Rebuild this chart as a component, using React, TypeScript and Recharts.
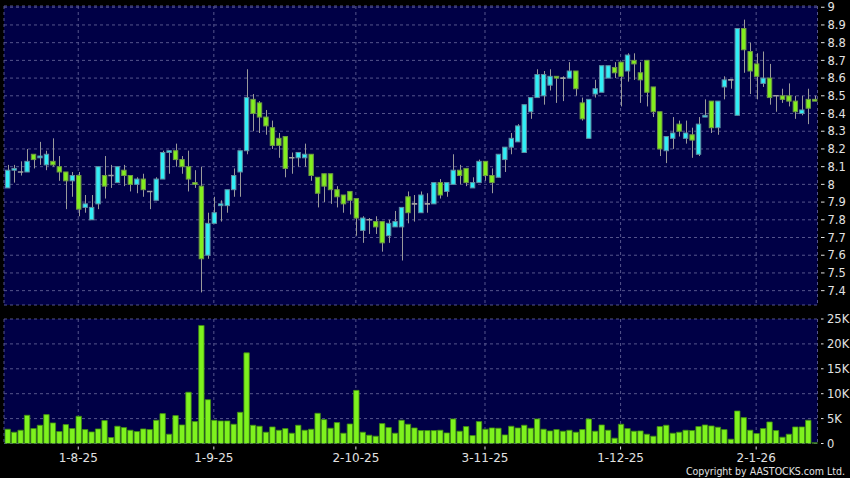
import React from 'react';
import { ComposedChart, Bar, XAxis, YAxis, CartesianGrid } from 'recharts';

// ---- data ----
const openP = [
  7.98, 8.08, 8.07, 8.07, 8.17, 8.15, 8.11, 8.13, 8.10, 8.07,
  8.02, 8.05, 7.87, 7.80, 7.89, 8.05, 8.05, 8.01, 8.08, 8.05,
  8.00, 8.03, 7.96, 7.91, 8.03, 8.18, 8.19, 8.14, 8.10, 8.01,
  7.99, 7.60, 7.78, 7.88, 7.88, 7.97, 8.07, 8.19, 8.48, 8.46,
  8.38, 8.32, 8.26, 8.27, 8.15, 8.15, 8.15, 8.17, 8.04, 8.06,
  8.06, 7.97, 7.94, 7.96, 7.92, 7.74, 7.80, 7.79, 7.79, 7.71,
  7.76, 7.76, 7.93, 7.89, 7.84, 7.89, 7.89, 8.01, 7.96, 8.00,
  8.08, 8.09, 7.98, 8.01, 8.13, 8.05, 8.04, 8.14, 8.21, 8.24,
  8.18, 8.41, 8.49, 8.50, 8.56, 8.61, 8.60, 8.60, 8.64, 8.46,
  8.26, 8.51, 8.52, 8.60, 8.66, 8.69, 8.64, 8.70, 8.63, 8.70,
  8.55, 8.41, 8.19, 8.26, 8.34, 8.26, 8.28, 8.17, 8.38, 8.47,
  8.32, 8.55, 8.59, 8.39, 8.88, 8.75, 8.68, 8.57, 8.60, 8.50,
  8.50, 8.50, 8.47, 8.40, 8.48, 8.48,
];
const highP = [
  8.11, 8.11, 8.13, 8.20, 8.17, 8.24, 8.19, 8.26, 8.16, 8.07,
  8.07, 8.07, 7.94, 7.94, 8.10, 8.16, 8.11, 8.10, 8.11, 8.05,
  8.04, 8.06, 7.96, 8.04, 8.19, 8.19, 8.23, 8.16, 8.19, 8.08,
  8.10, 7.84, 7.93, 7.91, 7.97, 8.09, 8.19, 8.65, 8.51, 8.47,
  8.42, 8.36, 8.29, 8.27, 8.18, 8.18, 8.23, 8.17, 8.04, 8.06,
  8.06, 7.99, 7.94, 7.96, 7.92, 7.82, 7.81, 7.82, 7.79, 7.80,
  7.85, 7.87, 7.96, 7.94, 7.96, 7.95, 8.01, 8.03, 8.01, 8.17,
  8.11, 8.09, 8.04, 8.14, 8.13, 8.09, 8.17, 8.21, 8.29, 8.34,
  8.45, 8.49, 8.65, 8.64, 8.65, 8.61, 8.61, 8.69, 8.64, 8.49,
  8.48, 8.59, 8.67, 8.67, 8.69, 8.69, 8.74, 8.74, 8.69, 8.70,
  8.55, 8.41, 8.27, 8.38, 8.36, 8.36, 8.32, 8.38, 8.48, 8.47,
  8.47, 8.61, 8.59, 8.88, 8.93, 8.80, 8.74, 8.75, 8.68, 8.50,
  8.54, 8.57, 8.50, 8.50, 8.54, 8.50,
];
const lowP = [
  7.98, 8.01, 8.05, 8.07, 8.09, 8.11, 8.08, 8.10, 8.02, 7.86,
  7.93, 7.82, 7.84, 7.80, 7.86, 7.92, 7.98, 8.01, 7.99, 7.96,
  7.95, 7.93, 7.86, 7.91, 8.03, 8.06, 8.10, 8.06, 7.96, 7.98,
  7.39, 7.58, 7.78, 7.79, 7.84, 7.93, 7.93, 8.17, 8.30, 8.29,
  8.28, 8.20, 8.15, 8.04, 8.06, 8.10, 8.10, 8.02, 7.87, 7.90,
  7.89, 7.87, 7.84, 7.83, 7.71, 7.67, 7.72, 7.72, 7.62, 7.67,
  7.76, 7.57, 7.78, 7.79, 7.84, 7.84, 7.89, 7.92, 7.93, 8.00,
  8.00, 7.99, 7.98, 8.01, 8.02, 7.95, 8.04, 8.07, 8.17, 8.24,
  8.18, 8.37, 8.49, 8.45, 8.53, 8.46, 8.47, 8.60, 8.50, 8.36,
  8.26, 8.49, 8.52, 8.60, 8.60, 8.44, 8.58, 8.59, 8.46, 8.44,
  8.38, 8.16, 8.12, 8.20, 8.27, 8.23, 8.15, 8.16, 8.38, 8.29,
  8.28, 8.48, 8.54, 8.39, 8.63, 8.51, 8.48, 8.55, 8.45, 8.41,
  8.46, 8.44, 8.37, 8.39, 8.34, 8.47,
];
const closeP = [
  8.08, 8.09, 8.07, 8.13, 8.14, 8.16, 8.17, 8.11, 8.07, 8.02,
  8.05, 7.86, 7.89, 7.87, 8.10, 7.99, 8.05, 8.10, 8.05, 8.00,
  8.03, 7.97, 7.96, 8.03, 8.18, 8.19, 8.14, 8.10, 8.03, 8.00,
  7.58, 7.78, 7.84, 7.89, 7.97, 8.05, 8.19, 8.49, 8.40, 8.38,
  8.33, 8.22, 8.22, 8.09, 8.15, 8.18, 8.17, 8.05, 7.95, 7.99,
  7.97, 7.93, 7.89, 7.91, 7.81, 7.81, 7.80, 7.76, 7.67, 7.78,
  7.79, 7.87, 7.84, 7.89, 7.94, 7.89, 8.01, 7.94, 8.01, 8.08,
  8.05, 8.01, 8.01, 8.13, 8.05, 8.01, 8.17, 8.21, 8.26, 8.33,
  8.45, 8.49, 8.62, 8.62, 8.61, 8.60, 8.60, 8.64, 8.54, 8.37,
  8.48, 8.54, 8.67, 8.67, 8.63, 8.61, 8.73, 8.68, 8.59, 8.52,
  8.41, 8.20, 8.27, 8.29, 8.30, 8.29, 8.25, 8.34, 8.39, 8.32,
  8.47, 8.59, 8.59, 8.88, 8.76, 8.64, 8.61, 8.60, 8.49, 8.50,
  8.48, 8.47, 8.41, 8.42, 8.43, 8.47,
];
// volume in thousands
const volumeK = [
  2.87, 2.27, 2.67, 5.67, 3.0, 3.67, 5.8, 4.13, 2.4, 3.8,
  3.0, 5.47, 2.8, 2.33, 2.93, 4.6, 1.2, 3.47, 3.2, 2.67,
  2.4, 2.93, 2.8, 4.67, 6.0, 1.87, 5.6, 3.73, 10.3, 4.4,
  23.7, 8.8, 4.67, 4.53, 4.53, 3.87, 6.27, 18.2, 3.67, 3.47,
  2.27, 3.33, 2.67, 3.0, 2.07, 3.67, 2.67, 2.87, 6.07, 4.8,
  3.07, 4.2, 2.07, 3.93, 10.67, 2.27, 1.67, 1.47, 4.0, 3.2,
  2.07, 4.67, 3.87, 3.13, 2.6, 2.6, 2.6, 2.67, 2.13, 4.93,
  2.47, 3.4, 1.6, 4.4, 2.87, 3.13, 3.07, 1.73, 3.47, 3.13,
  3.67, 3.07, 4.93, 2.87, 2.53, 2.8, 2.47, 2.67, 2.27, 2.8,
  4.93, 2.47, 3.73, 2.67, 1.07, 3.87, 3.0, 2.47, 2.53, 1.87,
  1.47, 3.4, 3.67, 2.07, 2.27, 2.67, 2.6, 3.4, 3.73, 3.53,
  3.27, 2.8, 0.87, 6.53, 5.2, 2.67, 2.0, 3.0, 4.33, 2.6,
  1.27, 1.87, 3.33, 3.33, 4.67, 0.13,
];
const xTickIndex = [11, 32, 54, 74, 95, 116];
const xTickLabels = ['1-8-25', '1-9-25', '2-10-25', '3-11-25', '1-12-25', '2-1-26'];
const priceTicks = [7.4, 7.5, 7.6, 7.7, 7.8, 7.9, 8.0, 8.1, 8.2, 8.3, 8.4, 8.5, 8.6, 8.7, 8.8, 8.9, 9.0];
const volumeTicks = [0, 5, 10, 15, 20, 25];

const data = openP.map((o, i) => ({
  i,
  open: o,
  high: highP[i],
  low: lowP[i],
  close: closeP[i],
  volume: volumeK[i],
}));

const NAVY = '#000046';
const GRID = '#55558c';
const TEXT = '#e2e2e2';
const FONT = '"DejaVu Sans", sans-serif';

const Candle = (props: any) => {
  const { x, y, width, height, payload } = props;
  if (x == null || !payload) return null;
  const top = Math.min(y, y + height);
  const h = Math.abs(height);
  const range = payload.high - payload.low;
  const k = range > 0 ? h / range : 0;
  const yOf = (v: number) => top + (payload.high - v) * k;
  const cx = Math.round(x + width / 2) + 0.5;
  const up = payload.close > payload.open;
  const flat = payload.close === payload.open;
  const yO = yOf(payload.open);
  const yC = yOf(payload.close);
  const bt = Math.min(yO, yC);
  const bb = Math.max(yO, yC);
  return (
    <g>
      <line x1={cx} x2={cx} y1={top} y2={top + h} stroke="#9a9a9a" strokeWidth={1} />
      {flat ? (
        <line x1={x} x2={x + width} y1={yO} y2={yO} stroke="#a0a0a0" strokeWidth={1.6} />
      ) : (
        <rect
          x={x + 0.5}
          y={bt}
          width={width - 1}
          height={Math.max(bb - bt, 1.2)}
          fill={up ? '#30eef6' : '#82ee1e'}
          stroke={up ? '#5f8fa3' : '#6f9a45'}
          strokeWidth={1}
        />
      )}
    </g>
  );
};

const PriceTick = (props: any) => {
  const { x, y, payload } = props;
  const v = Number(payload.value);
  const label = Number(v.toFixed(1)).toString();
  return (
    <g>
      <line x1={x + 3.5} x2={x + 7} y1={y} y2={y} stroke={TEXT} strokeWidth={1} />
      <text x={x + 10} y={y} dy="0.36em" fill={TEXT} fontSize={11.5} fontFamily={FONT} textAnchor="start">
        {label}
      </text>
    </g>
  );
};

const VolTick = (props: any) => {
  const { x, y, payload } = props;
  const v = Number(payload.value);
  const label = v === 0 ? '0' : `${v}K`;
  return (
    <g>
      <line x1={x + 3.5} x2={x + 6} y1={y} y2={y} stroke={TEXT} strokeWidth={1} />
      <text x={x + 9.5} y={y} dy="0.36em" fill={TEXT} fontSize={11.5} fontFamily={FONT} textAnchor="start">
        {label}
      </text>
    </g>
  );
};

const DateTick = (props: any) => {
  const { x, y, payload } = props;
  const idx = xTickIndex.indexOf(Number(payload.value));
  const label = idx >= 0 ? xTickLabels[idx] : '';
  return (
    <g>
      <line x1={x} x2={x} y1={y + 3} y2={y + 6} stroke={TEXT} strokeWidth={1} />
      <text x={x} y={y + 14.5} dy="0.36em" fill={TEXT} fontSize={12} fontFamily={FONT} textAnchor="middle">
        {label}
      </text>
    </g>
  );
};

export default function App() {
  return (
    <div
      style={{
        position: 'fixed',
        left: 0,
        top: 0,
        width: 850,
        height: 478,
        background: '#000',
        overflow: 'hidden',
      }}
    >
      <div style={{ position: 'absolute', left: 0, top: 0 }}>
        <ComposedChart
          width={850}
          height={306}
          data={data}
          margin={{ top: 6, right: 0, bottom: 1, left: 4 }}
          barCategoryGap={0}
        >
          <CartesianGrid fill={NAVY} stroke={GRID} strokeDasharray="3 3" />
          <XAxis dataKey="i" type="category" hide ticks={xTickIndex} interval={0} />
          <YAxis
            orientation="right"
            width={32.5}
            type="number"
            domain={[7.319, 9.007]}
            allowDataOverflow
            ticks={priceTicks}
            interval={0}
            axisLine={false}
            tickLine={false}
            tickSize={0}
            tickMargin={0}
            tick={<PriceTick />}
          />
          <Bar
            dataKey={(d: any) => [d.low, d.high]}
            barSize={5.4}
            shape={<Candle />}
            isAnimationActive={false}
          />
        </ComposedChart>
      </div>
      <div style={{ position: 'absolute', left: 0, top: 306 }}>
        <ComposedChart
          width={850}
          height={172}
          data={data}
          margin={{ top: 13, right: 0, bottom: 0, left: 4 }}
          barCategoryGap={0}
        >
          <CartesianGrid fill={NAVY} stroke={GRID} strokeDasharray="3 3" />
          <XAxis
            dataKey="i"
            type="category"
            height={34.5}
            ticks={xTickIndex}
            interval={0}
            axisLine={false}
            tickLine={false}
            tickSize={0}
            tickMargin={0}
            tick={<DateTick />}
          />
          <YAxis
            orientation="right"
            width={32.5}
            type="number"
            domain={[0, 25]}
            allowDataOverflow
            ticks={volumeTicks}
            interval={0}
            axisLine={false}
            tickLine={false}
            tickSize={0}
            tickMargin={0}
            tick={<VolTick />}
          />
          <Bar
            dataKey="volume"
            barSize={5.4}
            fill="#7ef21e"
            stroke="#3f8c12"
            strokeWidth={0.8}
            isAnimationActive={false}
          />
        </ComposedChart>
      </div>
      <div
        style={{
          position: 'absolute',
          right: 5,
          top: 465,
          color: TEXT,
          fontFamily: '"DejaVu Sans Condensed", "DejaVu Sans", sans-serif',
          fontSize: 10.5,
          lineHeight: '13px',
          whiteSpace: 'nowrap',
        }}
      >
        Copyright by AASTOCKS.com Ltd.
      </div>
    </div>
  );
}
